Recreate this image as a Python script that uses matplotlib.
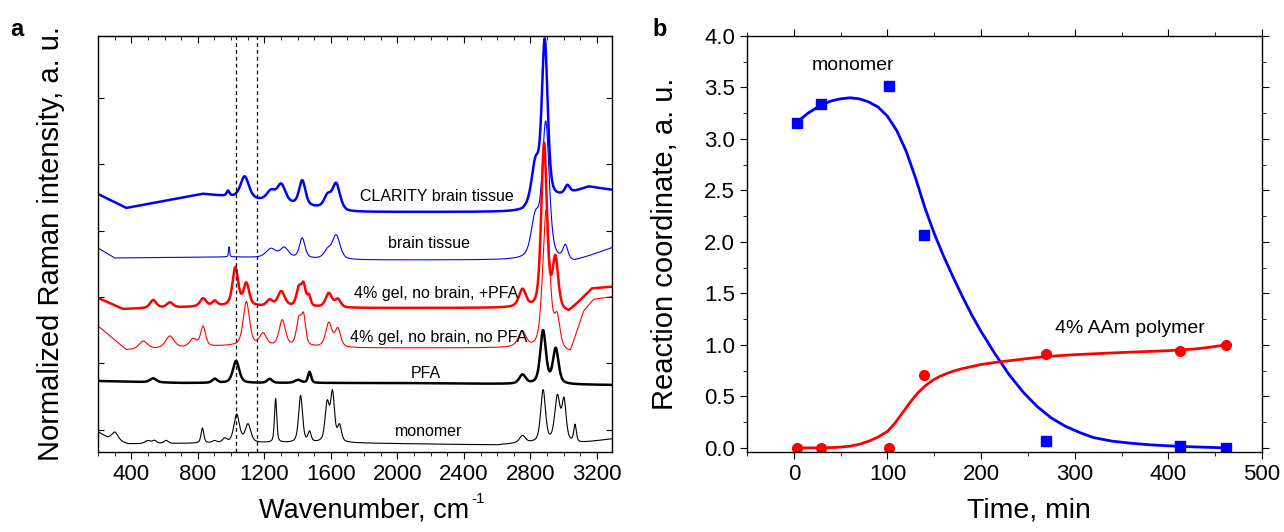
import numpy as np
import matplotlib.pyplot as plt
from matplotlib.ticker import MultipleLocator, NullFormatter

plt.rcParams['font.family'] = ['Liberation Sans', 'DejaVu Sans']

# ---------- panel a: Raman spectra (peak tables) ----------
# each spectrum: baseline anchors (cm-1, height) + peaks (centre, height, FWHM)
wn = np.linspace(200, 3290, 3000)

mono_base_x = [200, 260, 380, 1000, 1700, 2600, 2750, 3100, 3290]
mono_base_y = [20, 14, 8, 9, 9, 7, 9, 9, 13]
mono_pk_c = [302, 500, 540, 610, 828, 900, 962, 1034, 1102, 1268, 1418, 1472, 1578, 1610, 1652, 2752, 2876, 2962, 3002, 3068]
mono_pk_h = [8, 3, 3, 3, 15, 2, 4, 28, 18, 44, 47, 10, 38, 48, 16, 7, 52, 45, 40, 17]
mono_pk_w = [45, 40, 30, 30, 20, 30, 30, 40, 40, 16, 28, 22, 30, 28, 28, 40, 34, 38, 30, 18]

pfa_base_x = [200, 700, 2000, 3290]
pfa_base_y = [71, 69, 69, 67]
pfa_pk_c = [532, 902, 1030, 1232, 1402, 1472, 2752, 2876, 2952]
pfa_pk_h = [4, 4, 22, 4, 3, 11, 9, 53, 35]
pfa_pk_w = [45, 35, 45, 35, 45, 22, 45, 40, 40]

gel_base_x = [200, 370, 1000, 1700, 2700, 3040, 3120, 3180, 3290]
gel_base_y = [126, 102, 106, 104, 104, 99, 140, 152, 155]
gel_pk_c = [472, 632, 772, 832, 1092, 1192, 1308, 1408, 1436, 1588, 1642, 2750, 2895, 2960]
gel_pk_h = [8, 12, 8, 20, 44, 12, 26, 26, 28, 24, 18, 16, 140, 30]
gel_pk_w = [60, 60, 50, 36, 45, 50, 45, 35, 30, 45, 40, 55, 50, 40]

gelpfa_base_x = [200, 350, 1000, 1700, 2700, 3030, 3170, 3290]
gelpfa_base_y = [154, 143, 146, 144, 144, 139, 163, 165]
gelpfa_pk_c = [532, 632, 832, 902, 1026, 1092, 1232, 1302, 1408, 1436, 1468, 1588, 1642, 2752, 2882, 2950]
gelpfa_pk_h = [8, 5, 8, 5, 38, 22, 6, 15, 18, 20, 10, 14, 8, 18, 166, 50]
gelpfa_pk_w = [45, 45, 45, 35, 40, 40, 40, 50, 35, 30, 24, 45, 40, 50, 40, 40]

brain_base_x = [200, 300, 1000, 1700, 2750, 3060, 3290]
brain_base_y = [204, 194, 195, 192, 192, 190, 204]
brain_pk_c = [988, 1240, 1320, 1428, 1580, 1632, 2830, 2892, 3010]
brain_pk_h = [10, 9, 10, 20, 8, 24, 40, 135, 14]
brain_pk_w = [8, 70, 60, 40, 50, 55, 60, 50, 35]

clar_base_x = [200, 370, 830, 1000, 1700, 2750, 3150, 3290]
clar_base_y = [258, 244, 258, 255, 240, 240, 265, 262]
clar_pk_c = [982, 1082, 1240, 1302, 1428, 1580, 1632, 2830, 2886, 3022]
clar_pk_h = [5, 22, 10, 18, 25, 12, 26, 40, 160, 8]
clar_pk_w = [20, 60, 60, 60, 45, 50, 55, 55, 42, 35]


def spectrum(bx, by, pc, ph, pw):
    y = np.interp(wn, bx, by)
    for c, h, w in zip(pc, ph, pw):
        lor = 1 / (1 + ((wn - c) / (w / 2)) ** 2)
        gau = np.exp(-4 * np.log(2) * ((wn - c) / w) ** 2)
        y = y + h * (0.5 * lor + 0.5 * gau)
    return y


traces = [
    (clar_base_x, clar_base_y, clar_pk_c, clar_pk_h, clar_pk_w, 'blue', 1.8),
    (brain_base_x, brain_base_y, brain_pk_c, brain_pk_h, brain_pk_w, 'blue', 0.8),
    (gelpfa_base_x, gelpfa_base_y, gelpfa_pk_c, gelpfa_pk_h, gelpfa_pk_w, 'red', 1.8),
    (gel_base_x, gel_base_y, gel_pk_c, gel_pk_h, gel_pk_w, 'red', 0.8),
    (pfa_base_x, pfa_base_y, pfa_pk_c, pfa_pk_h, pfa_pk_w, 'black', 1.8),
    (mono_base_x, mono_base_y, mono_pk_c, mono_pk_h, mono_pk_w, 'black', 0.8),
]

labels_a = ['CLARITY brain tissue', 'brain tissue', '4% gel, no brain, +PFA',
            '4% gel, no brain, no PFA', 'PFA', 'monomer']
label_x = [2240, 2190, 2230, 2250, 2170, 2190]
label_y = [256, 209, 158, 114, 78, 20]

dash_lines = [1030, 1157]

# ---------- panel b: kinetics ----------
t_mono = [3, 29, 102, 139, 269, 412, 461]
v_mono = [3.16, 3.34, 3.51, 2.07, 0.065, 0.023, 0.0]
t_poly = [3, 29, 102, 139, 269, 412, 461]
v_poly = [0.0, 0.0, 0.0, 0.71, 0.91, 0.945, 1.0]

fit_mono_t = [3, 15, 29, 40, 50, 60, 70, 80, 90, 100, 110, 120, 130, 140, 150, 160, 170, 180, 190, 200,
              215, 230, 245, 260, 275, 290, 305, 320, 340, 360, 380, 400, 420, 440, 461]
fit_mono_v = [3.16, 3.25, 3.33, 3.37, 3.39, 3.40, 3.39, 3.36, 3.31, 3.22, 3.08, 2.88, 2.62, 2.33, 2.08, 1.86,
              1.66, 1.47, 1.29, 1.13, 0.91, 0.71, 0.54, 0.40, 0.29, 0.21, 0.15, 0.10, 0.065, 0.045, 0.03,
              0.02, 0.012, 0.006, 0.0]
fit_poly_t = [3, 29, 45, 60, 70, 80, 90, 100, 108, 116, 124, 132, 140, 148, 156, 164, 172, 180, 190, 200,
              215, 229, 250, 269, 300, 330, 360, 390, 412, 430, 445, 461]
fit_poly_v = [0.0, 0.0, 0.004, 0.016, 0.035, 0.065, 0.105, 0.16, 0.24, 0.34, 0.44, 0.53, 0.60, 0.655, 0.695,
              0.725, 0.75, 0.77, 0.79, 0.81, 0.83, 0.845, 0.868, 0.887, 0.905, 0.918, 0.93, 0.94, 0.95,
              0.962, 0.978, 1.0]

fig = plt.figure(figsize=(12.84, 5.32), dpi=100)
axa = fig.add_axes([0.0763, 0.1504, 0.4003, 0.7819])
axb = fig.add_axes([0.5818, 0.1504, 0.4011, 0.7819])

for bx, by, pc, ph, pw, col, lw in traces:
    axa.plot(wn, spectrum(bx, by, pc, ph, pw), color=col, lw=lw)
for xd in dash_lines:
    axa.axvline(xd, color='black', lw=0.9, ls=(0, (3, 2.5)))
for txt, lx, ly in zip(labels_a, label_x, label_y):
    axa.text(lx, ly, txt, ha='center', va='center', fontsize=11.5)

axa.set_xlim(200, 3290)
axa.set_ylim(0, 416)
axa.xaxis.set_major_locator(MultipleLocator(400))
axa.xaxis.set_minor_locator(MultipleLocator(100))
axa.set_yticks(np.arange(22, 416, 66.5))
axa.yaxis.set_major_formatter(NullFormatter())
axa.tick_params(axis='x', which='both', direction='out', labelsize=16)
axa.tick_params(axis='x', which='major', length=5)
axa.tick_params(axis='x', which='minor', length=3)
axa.tick_params(axis='y', which='both', direction='in', left=True, right=True, length=4)
top = axa.secondary_xaxis('top')
top.xaxis.set_major_locator(MultipleLocator(400))
top.xaxis.set_minor_locator(MultipleLocator(100))
top.tick_params(which='both', direction='in', labeltop=False)
top.tick_params(which='major', length=5)
top.tick_params(which='minor', length=3)
axa.set_xlabel('Wavenumber, cm', fontsize=19.5)
axa.xaxis.set_label_coords(0.5175, -0.11)
axa.set_ylabel('Normalized Raman intensity, a. u.', fontsize=21, labelpad=20)

axb.plot(fit_mono_t, fit_mono_v, color='blue', lw=2.0, solid_joinstyle='round')
axb.plot(fit_poly_t, fit_poly_v, color='red', lw=2.0, solid_joinstyle='round')
axb.plot(t_mono, v_mono, 's', color='blue', ms=7)
axb.plot(t_poly, v_poly, 'o', color='red', ms=7)
axb.text(63, 3.71, 'monomer', ha='center', va='center', fontsize=14)
axb.text(359, 1.155, '4% AAm polymer', ha='center', va='center', fontsize=14)

axb.set_xlim(-50, 500)
axb.set_ylim(-0.04, 4.0)
axb.xaxis.set_major_locator(MultipleLocator(100))
axb.xaxis.set_minor_locator(MultipleLocator(50))
axb.yaxis.set_major_locator(MultipleLocator(0.5))
axb.yaxis.set_minor_locator(MultipleLocator(0.25))
axb.yaxis.set_major_formatter(plt.FormatStrFormatter('%.1f'))
axb.tick_params(which='both', direction='out', labelsize=16, top=True, right=True)
axb.tick_params(which='major', length=5)
axb.tick_params(which='minor', length=3)
axb.set_xlabel('Time, min', fontsize=20.5)
axb.xaxis.set_label_coords(0.548, -0.11)
axb.set_ylabel('Reaction coordinate, a. u.', fontsize=21, labelpad=18)

for ax in (axa, axb):
    for s in ax.spines.values():
        s.set_linewidth(1.0)

fig.text(0.008, 0.945, 'a', fontsize=17, fontweight='bold', va='center')
fig.text(0.508, 0.945, 'b', fontsize=17, fontweight='bold', va='center')

# superscript "-1" placed just after the x label of panel a
fig.canvas.draw()
bb = axa.xaxis.label.get_window_extent()
W, H = fig.bbox.width, fig.bbox.height
fig.text((bb.x1 + 2) / W, (bb.y1 + 6) / H, '-1', fontsize=11, ha='left', va='top')

fig.savefig('out.png', dpi=100)
